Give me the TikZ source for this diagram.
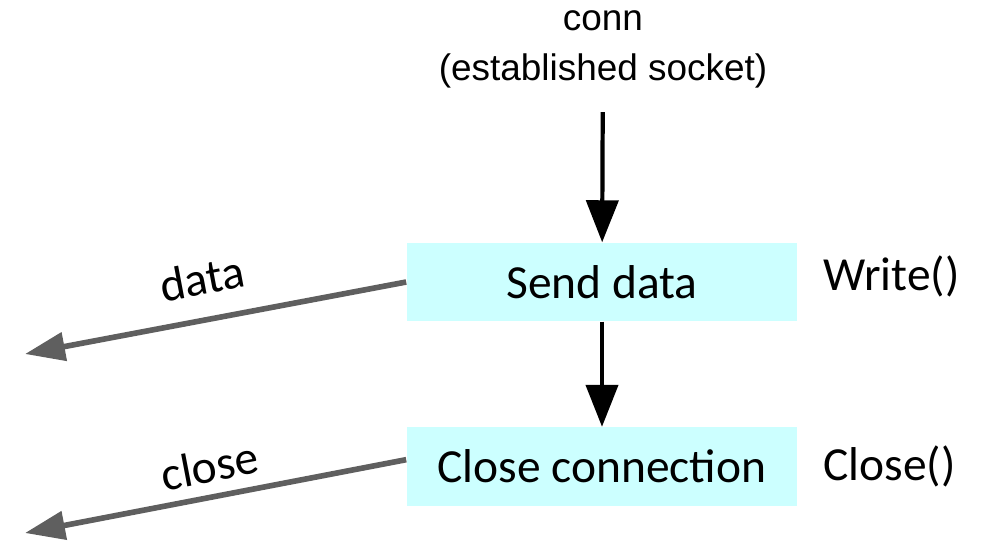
\documentclass[tikz,border=0pt]{standalone}
\usepackage{fontspec}
\setmainfont{Carlito}
\newfontfamily\arialfont{Liberation Sans}
\usetikzlibrary{arrows.meta}
\usetikzlibrary{positioning}
\definecolor{stagecyan}{HTML}{CCFFFF}
\definecolor{outgray}{HTML}{5F5F5F}
\tikzstyle{stage}=[fill=stagecyan, minimum width=3.9cm, minimum height=0.78cm, font=\fontsize{13.5}{16}\selectfont]
\tikzstyle{call}=[inner sep=0, font=\fontsize{13.5}{16}\selectfont]
\tikzstyle{flow}=[line width=1.2pt, -{Triangle[length=0.42cm, width=0.32cm]}]
\tikzstyle{output}=[outgray, line width=1.6pt, {Triangle[length=0.4cm, width=0.28cm]}-]
\tikzstyle{output label}=[black, sloped, font=\fontsize{13.5}{16}\selectfont]

\begin{document}
\begin{tikzpicture}[x=0.01cm, y=-0.01cm]
      \useasboundingbox (0,0) rectangle (984,541);

      \node[font=\arialfont\fontsize{10.5}{14.2}\selectfont, align=center] (conn) at (603,49) {conn\\(established socket)};

      \node[stage] (send) at (602,282) {Send data};
      \node[stage] (close) at (602,466.5) {Close connection};

      \node[call, right=0.25cm of send, yshift=1.5pt] (write) {Write()};
      \node[call, right=0.25cm of close] (close_call) {Close()};

      \coordinate (data_out) at (25,354);
      \coordinate (close_out) at (25,533);

      \draw[flow, shorten <=0.12cm] (conn) -- (send);
      \draw[flow] (send) -- (close);

      \draw[output] (data_out) to node[output label, above=3pt, pos=0.485] {data} (send.west);
      \draw[output] (close_out) to node[output label, above=0pt, pos=0.5] {close} (close.178);
    \end{tikzpicture}
\end{document}
